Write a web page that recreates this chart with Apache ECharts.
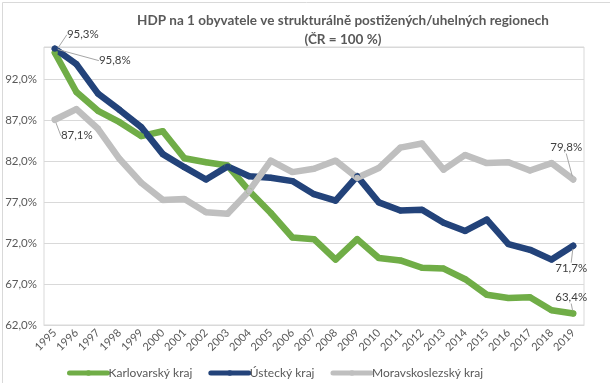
<!DOCTYPE html>
<html>
<head>
<meta charset="utf-8">
<script src="https://cdn.jsdelivr.net/npm/echarts@6/dist/echarts.min.js"></script>
<style>
html,body{margin:0;padding:0;background:#fff;}
#c{width:610px;height:383px;}
</style>
</head>
<body>
<div id="c"></div>
<script>
// ---- data ----
var years = ['1995','1996','1997','1998','1999','2000','2001','2002','2003','2004','2005','2006','2007','2008','2009','2010','2011','2012','2013','2014','2015','2016','2017','2018','2019'];
var karlovarsky = [95.3,90.5,88.2,86.8,85.1,85.7,82.4,81.9,81.5,78.4,75.7,72.7,72.5,70.0,72.5,70.2,69.9,69.0,68.9,67.6,65.7,65.3,65.4,63.8,63.4];
var ustecky = [95.8,93.9,90.3,88.3,86.2,82.9,81.3,79.8,81.4,80.2,80.0,79.6,78.0,77.2,80.2,77.0,76.0,76.1,74.5,73.5,74.9,71.9,71.2,70.0,71.7];
var moravskoslezsky = [87.1,88.4,86.0,82.3,79.4,77.3,77.4,75.8,75.6,78.4,82.1,80.7,81.1,82.1,80.0,81.2,83.7,84.2,81.0,82.8,81.8,81.9,80.9,81.8,79.8];
var seriesNames = ['Karlovarský kraj','Ústecký kraj','Moravskoslezský kraj'];
var yTickMin = 62, yTickMax = 96, yTickStep = 5;

var allSeries = [karlovarsky, ustecky, moravskoslezsky];
var colors = ['#70AD47','#23437A','#BFBFBF'];
function fmt(v){ return v.toFixed(1).replace('.',',') + '%'; }

// label offsets (style only) for first / last points
var labelOffsets = [
  {0:[28,-18], 24:[-2,-16]},
  {0:[60,12], 24:[-2,23]},
  {0:[22,16], 24:[-7,-32]}
];

var chart = echarts.init(document.getElementById('c'), null, {renderer:'canvas'});
var FONT = 'Lato, "Open Sans", sans-serif';

var series = allSeries.map(function(arr, si){
  return {
    name: seriesNames[si],
    type: 'line',
    data: arr.map(function(v, i){
      return { value: v - yTickMin, label: { show: (i === 0 || i === arr.length - 1) } };
    }),
    symbol: 'circle',
    symbolSize: 6,
    showSymbol: true,
    showAllSymbol: true,
    itemStyle: { color: colors[si] },
    lineStyle: { color: colors[si], width: 6.5, cap: 'round', join: 'round' },
    label: {
      show: false,
      position: 'inside',
      fontFamily: FONT,
      fontSize: 11.5,
      color: '#404040',
      formatter: function(p){ return fmt(allSeries[p.seriesIndex][p.dataIndex]); }
    },
    labelLine: { show: true, smooth: false, length2: 0, lineStyle: { color: '#A6A6A6', width: 1 } },
    labelLayout: function(p){
      var off = labelOffsets[si][p.dataIndex];
      if (!off) return {};
      return { dx: off[0], dy: off[1] };
    },
    emphasis: { disabled: true },
    animation: false
  };
});

var option = {
  backgroundColor: '#fff',
  animation: false,
  title: {
    text: 'HDP na 1 obyvatele ve strukturálně postižených/uhelných regionech\n(ČR = 100 %)',
    left: 338,
    top: 6,
    textAlign: 'center',
    textStyle: { fontFamily: FONT, fontSize: 13.5, fontWeight: 'bold', color: '#595959', lineHeight: 19 }
  },
  legend: {
    data: seriesNames,
    left: 62,
    top: 362,
    itemWidth: 38,
    itemHeight: 7,
    itemGap: 16,
    lineStyle: { width: 5 },
    textStyle: { fontFamily: FONT, fontSize: 12, color: '#595959', padding: [0,0,0,-4] }
  },
  grid: { left: 44, right: 26, top: 47, bottom: 58, show: true, borderColor: '#D9D9D9', borderWidth: 1 },
  xAxis: {
    type: 'category',
    data: years,
    boundaryGap: true,
    axisLine: { show: true, lineStyle: { color: '#D9D9D9' } },
    axisTick: { show: false },
    axisLabel: { rotate: 45, fontFamily: FONT, fontSize: 11, color: '#595959', margin: 6, interval: 0 },
    splitLine: { show: false }
  },
  yAxis: {
    type: 'value',
    min: 0,
    max: yTickMax - yTickMin,
    interval: yTickStep,
    axisLine: { show: false },
    axisTick: { show: false },
    splitLine: { show: true, lineStyle: { color: '#D9D9D9', width: 1 } },
    axisLabel: {
      fontFamily: FONT, fontSize: 11.5, color: '#595959', margin: 7,
      showMaxLabel: false,
      formatter: function(v){ return fmt(v + yTickMin); }
    }
  },
  graphic: [{
    type: 'rect', left: 0, top: 0, z: -10,
    shape: { x: 0.5, y: 0.5, width: 608, height: 381 },
    style: { fill: null, stroke: '#D9D9D9', lineWidth: 1 }
  }],
  series: series
};
chart.setOption(option);
</script>
</body>
</html>
